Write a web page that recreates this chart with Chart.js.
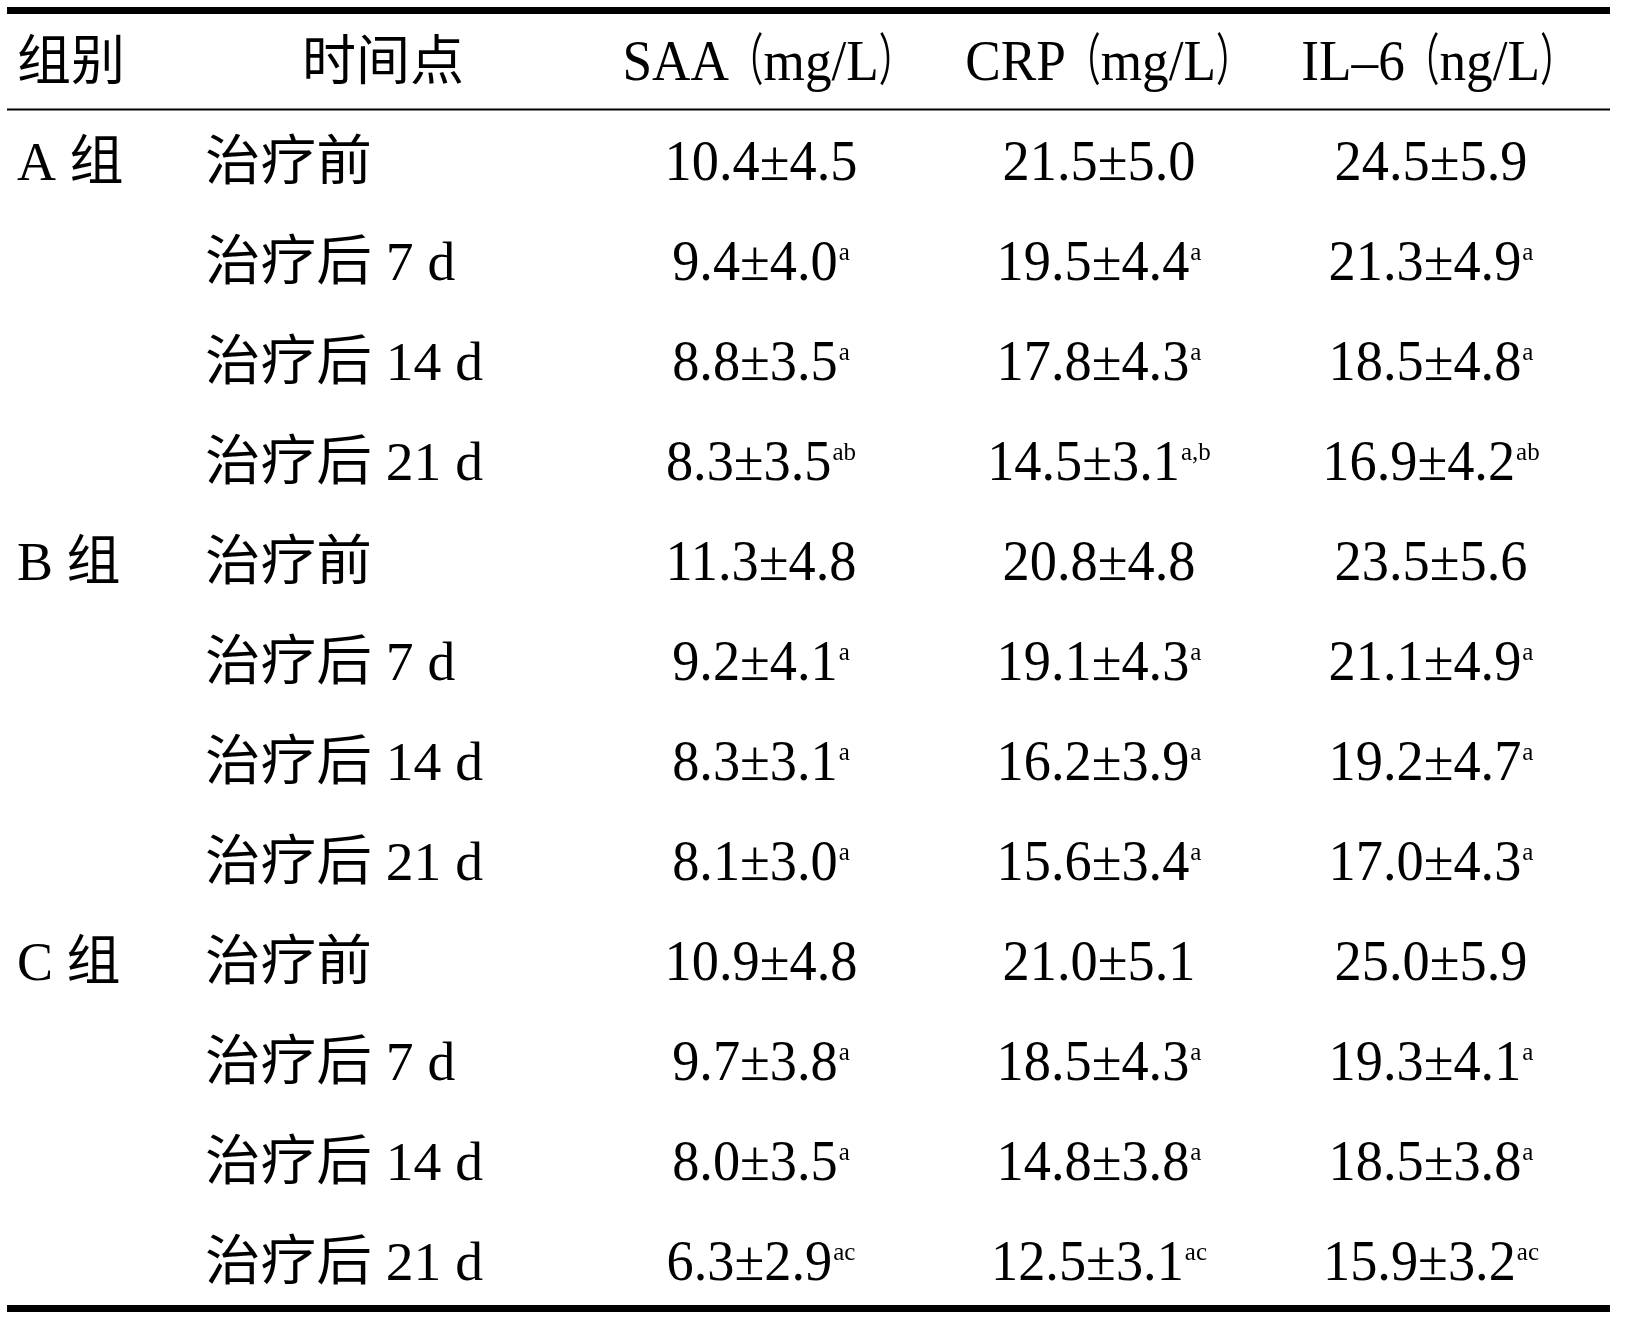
<!DOCTYPE html>
<html>
<head>
<meta charset="utf-8">
<script src="https://cdn.jsdelivr.net/npm/chart.js@4"></script>
<style>
  html, body { margin: 0; padding: 0; background: #ffffff; }
  #wrap { width: 1629px; height: 1321px; position: relative; }
</style>
</head>
<body>
<div id="wrap"><canvas id="c"></canvas></div>
<script>
// ---------------- DATA ----------------
const headerLabels = ['组别', '时间点', 'SAA（mg/L）', 'CRP（mg/L）', 'IL–6（ng/L）'];
const groupLabels = ['A 组', 'B 组', 'C 组'];
const timeLabels = ['治疗前', '治疗后 7 d', '治疗后 14 d', '治疗后 21 d'];

const saaMean = [10.4, 9.4, 8.8, 8.3, 11.3, 9.2, 8.3, 8.1, 10.9, 9.7, 8.0, 6.3];
const saaSD   = [4.5, 4.0, 3.5, 3.5, 4.8, 4.1, 3.1, 3.0, 4.8, 3.8, 3.5, 2.9];
const saaSup  = ['', 'a', 'a', 'ab', '', 'a', 'a', 'a', '', 'a', 'a', 'ac'];

const crpMean = [21.5, 19.5, 17.8, 14.5, 20.8, 19.1, 16.2, 15.6, 21.0, 18.5, 14.8, 12.5];
const crpSD   = [5.0, 4.4, 4.3, 3.1, 4.8, 4.3, 3.9, 3.4, 5.1, 4.3, 3.8, 3.1];
const crpSup  = ['', 'a', 'a', 'a,b', '', 'a', 'a', 'a', '', 'a', 'a', 'ac'];

const il6Mean = [24.5, 21.3, 18.5, 16.9, 23.5, 21.1, 19.2, 17.0, 25.0, 19.3, 18.5, 15.9];
const il6SD   = [5.9, 4.9, 4.8, 4.2, 5.6, 4.9, 4.7, 4.3, 5.9, 4.1, 3.8, 3.2];
const il6Sup  = ['', 'a', 'a', 'ab', '', 'a', 'a', 'a', '', 'a', 'a', 'ac'];

// ---------------- LAYOUT ----------------
const COL_X = [17, 205, 761, 1099, 1431];          // column anchors (px along x scale)
const HEADER_X = [17, 383, 768, 1108, 1438];
const HEADER_ALIGN = ['left', 'center', 'center', 'center', 'center'];
const RULES = [
  { y: -0.505, w: 7 },
  { y: 0.485, w: 2 },
  { y: 12.475, w: 7 }
];
const RULE_X0 = 7, RULE_X1 = 1610;

const FONT_CN = "54px 'Liberation Serif', 'Noto Sans CJK SC'";
const FONT_NUM = "56px 'Liberation Serif', 'Noto Sans CJK SC'";
const FONT_SUP = "25px 'Liberation Serif'";
const NUM_SCALE_X = 0.97;
const HEAD_SCALE_X = 0.95;
const PAREN_SCALE_X = 0.62;

// ---------------- BUILD CELLS ----------------
const cells = [];
headerLabels.forEach((t, c) => {
  const isNum = c >= 2;
  cells.push({ x: HEADER_X[c], row: 0, text: t, sup: '', align: HEADER_ALIGN[c],
               font: isNum ? FONT_NUM : FONT_CN, sx: isNum ? HEAD_SCALE_X : 1 });
});
const valueCols = [[saaMean, saaSD, saaSup], [crpMean, crpSD, crpSup], [il6Mean, il6SD, il6Sup]];
for (let g = 0; g < groupLabels.length; g++) {
  for (let t = 0; t < timeLabels.length; t++) {
    const i = g * timeLabels.length + t;
    const row = i + 1;
    if (t === 0) {
      cells.push({ x: COL_X[0], row, text: groupLabels[g], sup: '', align: 'left', font: FONT_CN, sx: 1 });
    }
    cells.push({ x: COL_X[1], row, text: timeLabels[t], sup: '', align: 'left', font: FONT_CN, sx: 1.03 });
    valueCols.forEach((vc, k) => {
      const [m, s, sp] = vc;
      cells.push({ x: COL_X[k + 2], row, text: m[i].toFixed(1) + '±' + s[i].toFixed(1), sup: sp[i],
                   align: 'center', font: FONT_NUM, sx: NUM_SCALE_X });
    });
  }
}

const ruleDatasets = RULES.map(r => ({
  type: 'scatter',
  data: [{ x: RULE_X0, y: r.y }, { x: RULE_X1, y: r.y }],
  showLine: true,
  borderColor: '#000000',
  borderWidth: r.w,
  pointRadius: 0,
  borderCapStyle: 'butt',
  clip: false
}));

const textDataset = {
  type: 'scatter',
  data: cells.map(c => ({ x: c.x, y: c.row })),
  pointRadius: 0,
  showLine: false
};
const TEXT_INDEX = ruleDatasets.length;

function splitRuns(text, sx) {
  const runs = [];
  let cur = '', curP = null;
  for (const ch of text) {
    const isP = ch === '（' || ch === '）';
    if (curP !== null && isP !== curP) { runs.push({ t: cur, s: curP ? PAREN_SCALE_X : sx }); cur = ''; }
    cur += ch; curP = isP;
  }
  if (cur) runs.push({ t: cur, s: curP ? PAREN_SCALE_X : sx });
  return runs;
}

const tableText = {
  id: 'tableText',
  afterDatasetsDraw(chart) {
    const ctx = chart.ctx;
    const meta = chart.getDatasetMeta(TEXT_INDEX);
    ctx.save();
    ctx.fillStyle = '#000000';
    ctx.textBaseline = 'alphabetic';
    ctx.textAlign = 'left';
    meta.data.forEach((pt, i) => {
      const c = cells[i];
      const baseline = pt.y + 19;
      ctx.font = c.font;
      const runs = splitRuns(c.text, c.sx);
      let mainW = 0;
      runs.forEach(r => { r.w = ctx.measureText(r.t).width * r.s; mainW += r.w; });
      let supW = 0;
      if (c.sup) {
        ctx.font = FONT_SUP;
        supW = ctx.measureText(c.sup).width + 1;
      }
      const total = mainW + supW;
      let left = pt.x;
      if (c.align === 'center') left = pt.x - total / 2;
      ctx.font = c.font;
      let cx = left;
      runs.forEach(r => {
        ctx.save();
        ctx.translate(cx, baseline);
        ctx.scale(r.s, 1);
        ctx.fillText(r.t, 0, 0);
        ctx.restore();
        cx += r.w;
      });
      if (c.sup) {
        ctx.font = FONT_SUP;
        ctx.fillText(c.sup, left + mainW + 1, baseline - 20);
      }
    });
    ctx.restore();
  }
};

new Chart(document.getElementById('c'), {
  type: 'scatter',
  data: { datasets: [...ruleDatasets, textDataset] },
  options: {
    responsive: true,
    maintainAspectRatio: false,
    animation: false,
    events: [],
    layout: { padding: 0 },
    plugins: { legend: { display: false }, tooltip: { enabled: false } },
    scales: {
      x: { type: 'linear', display: false, min: 0, max: 1629 },
      y: { type: 'linear', display: false, reverse: true, min: -0.61, max: 12.60 }
    }
  },
  plugins: [tableText]
});
</script>
</body>
</html>
